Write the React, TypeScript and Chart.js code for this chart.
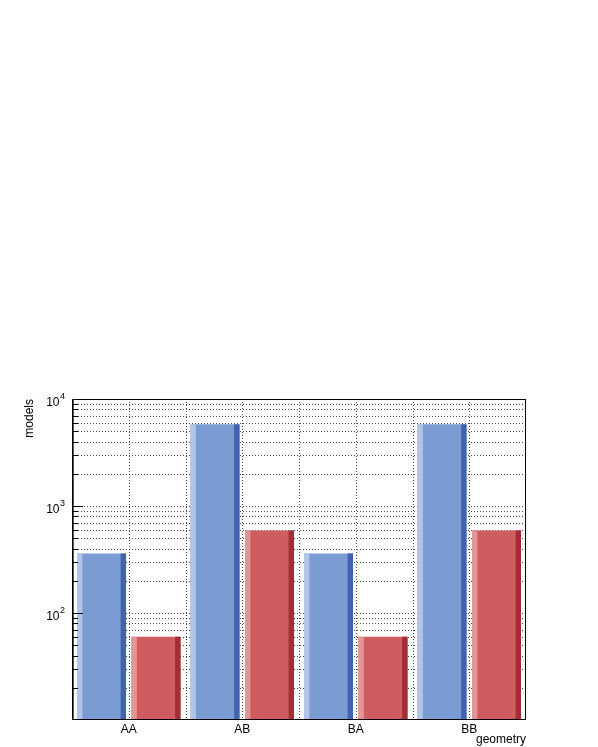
import React, { useEffect, useRef } from "react";
import { Chart, registerables } from "chart.js";

Chart.register(...registerables);

const categories = ["AA", "AB", "BA", "BB"];
const blueValues = [360, 5800, 360, 5800];
const redValues = [60, 590, 60, 590];
const yMajorTicks = [10, 100, 1000, 10000];
const yMinorMultipliers = [2, 3, 4, 5, 6, 7, 8, 9];
const yTickLabels = [
  { value: 100, base: "10", exp: "2" },
  { value: 1000, base: "10", exp: "3" },
  { value: 10000, base: "10", exp: "4" },
];
const xTitle = "geometry";
const yTitle = "models";

const FONT = "'Liberation Sans', Arial, Helvetica, sans-serif";

const colors = {
  blue: { main: "#7b9bd3", light: "#b2c5e9", dark: "#3f62b1" },
  red: { main: "#cf5d5f", light: "#e29597", dark: "#a32e33" },
};

const rootPlugin = {
  id: "rootStyle",
  beforeDatasetsDraw(chart: any) {
    const { ctx, chartArea: a, scales } = chart;
    const x = scales.x;
    const y = scales.y;
    ctx.save();
    ctx.strokeStyle = "rgba(0,0,0,0.7)";
    ctx.lineWidth = 1;
    ctx.setLineDash([1, 2]);
    const all: number[] = [];
    yMajorTicks.forEach((m) => {
      all.push(m);
      if (m < 10000) yMinorMultipliers.forEach((k) => all.push(m * k));
    });
    all.forEach((v) => {
      const py = Math.round(y.getPixelForValue(v)) + 0.5;
      if (py <= a.top + 1 || py >= a.bottom - 1) return;
      ctx.beginPath();
      ctx.moveTo(a.left, py);
      ctx.lineTo(a.right, py);
      ctx.stroke();
    });
    for (let i = 0; i < categories.length; i++) {
      const c = x.getPixelForValue(i);
      const xs = [c];
      if (i < categories.length - 1) xs.push((c + x.getPixelForValue(i + 1)) / 2);
      xs.forEach((px: number) => {
        const p = Math.round(px) + 0.5;
        ctx.beginPath();
        ctx.moveTo(p, a.top);
        ctx.lineTo(p, a.bottom);
        ctx.stroke();
      });
    }
    ctx.restore();
  },
  afterDatasetsDraw(chart: any) {
    const { ctx, chartArea: a, scales } = chart;
    const y = scales.y;
    ctx.save();
    chart.data.datasets.forEach((ds: any, di: number) => {
      const meta = chart.getDatasetMeta(di);
      const pal = di === 0 ? colors.blue : colors.red;
      meta.data.forEach((bar: any) => {
        const { x: bx, y: by, base, width } = bar.getProps(["x", "y", "base", "width"], true);
        const left = bx - width / 2;
        const sw = width * 0.11;
        ctx.fillStyle = pal.light;
        ctx.fillRect(left, by, sw, base - by);
        ctx.fillStyle = pal.dark;
        ctx.fillRect(left + width - sw, by, sw, base - by);
      });
    });
    ctx.strokeStyle = "#000";
    ctx.lineWidth = 1;
    ctx.setLineDash([]);
    ctx.strokeRect(Math.round(a.left) + 0.5, Math.round(a.top) + 0.5, Math.round(a.right - a.left) - 1, Math.round(a.bottom - a.top) - 1);
    ctx.strokeStyle = "#555";
    ctx.beginPath();
    ctx.moveTo(Math.round(a.left) + 1.5, a.top);
    ctx.lineTo(Math.round(a.left) + 1.5, a.bottom);
    ctx.stroke();
    ctx.strokeStyle = "#000";
    yMajorTicks.forEach((m) => {
      const py = Math.round(y.getPixelForValue(m)) + 0.5;
      if (py > a.top + 1 && py < a.bottom - 1) {
        ctx.beginPath();
        ctx.moveTo(a.left, py);
        ctx.lineTo(a.left + 11, py);
        ctx.stroke();
      }
      if (m < 10000)
        yMinorMultipliers.forEach((k) => {
          const pm = Math.round(y.getPixelForValue(m * k)) + 0.5;
          ctx.beginPath();
          ctx.moveTo(a.left, pm);
          ctx.lineTo(a.left + 6, pm);
          ctx.stroke();
        });
    });
    ctx.fillStyle = "#000";
    ctx.textBaseline = "middle";
    yTickLabels.forEach((t) => {
      const py = y.getPixelForValue(t.value);
      ctx.font = `9px ${FONT}`;
      const ew = ctx.measureText(t.exp).width;
      const right = a.left - 7;
      ctx.textAlign = "right";
      ctx.fillText(t.exp, right, py - 2);
      ctx.font = `12px ${FONT}`;
      ctx.fillText(t.base, right - ew - 0.5, py + 3.5);
    });
    ctx.font = `12px ${FONT}`;
    ctx.textAlign = "right";
    ctx.textBaseline = "alphabetic";
    ctx.fillText(xTitle, a.right, a.bottom + 23);
    ctx.save();
    ctx.translate(33, a.top);
    ctx.rotate(-Math.PI / 2);
    ctx.textAlign = "right";
    ctx.fillText(yTitle, 0, 0);
    ctx.restore();
    ctx.restore();
  },
};

export default function App() {
  const ref = useRef<HTMLCanvasElement | null>(null);
  useEffect(() => {
    if (!ref.current) return;
    const chart = new Chart(ref.current, {
      type: "bar",
      data: {
        labels: categories,
        datasets: [
          { label: "blue", data: blueValues, backgroundColor: colors.blue.main, borderWidth: 0, categoryPercentage: 0.96, barPercentage: 0.9 },
          { label: "red", data: redValues, backgroundColor: colors.red.main, borderWidth: 0, categoryPercentage: 0.96, barPercentage: 0.9 },
        ],
      },
      options: {
        animation: false,
        responsive: false,
        maintainAspectRatio: false,
        layout: { padding: { top: 399, right: 72, left: 0, bottom: 0 } },
        plugins: { legend: { display: false }, tooltip: { enabled: false } },
        scales: {
          x: {
            type: "category",
            grid: { display: false, drawTicks: false },
            border: { display: false },
            ticks: { color: "#000", font: { family: FONT, size: 12 }, padding: 2, maxRotation: 0 },
            afterFit: (s: any) => { s.height = 27; },
          },
          y: {
            type: "logarithmic",
            min: 10,
            max: 10000,
            grid: { display: false, drawTicks: false },
            border: { display: false },
            ticks: { display: false },
            afterFit: (s: any) => { s.width = 72; },
          },
        },
      },
      plugins: [rootPlugin],
    } as any);
    return () => chart.destroy();
  }, []);
  return (
    <div style={{ position: "fixed", left: 0, top: 0, width: 598, height: 747, background: "#fff" }}>
      <canvas ref={ref} width={598} height={747} style={{ width: 598, height: 747, display: "block" }} />
    </div>
  );
}
